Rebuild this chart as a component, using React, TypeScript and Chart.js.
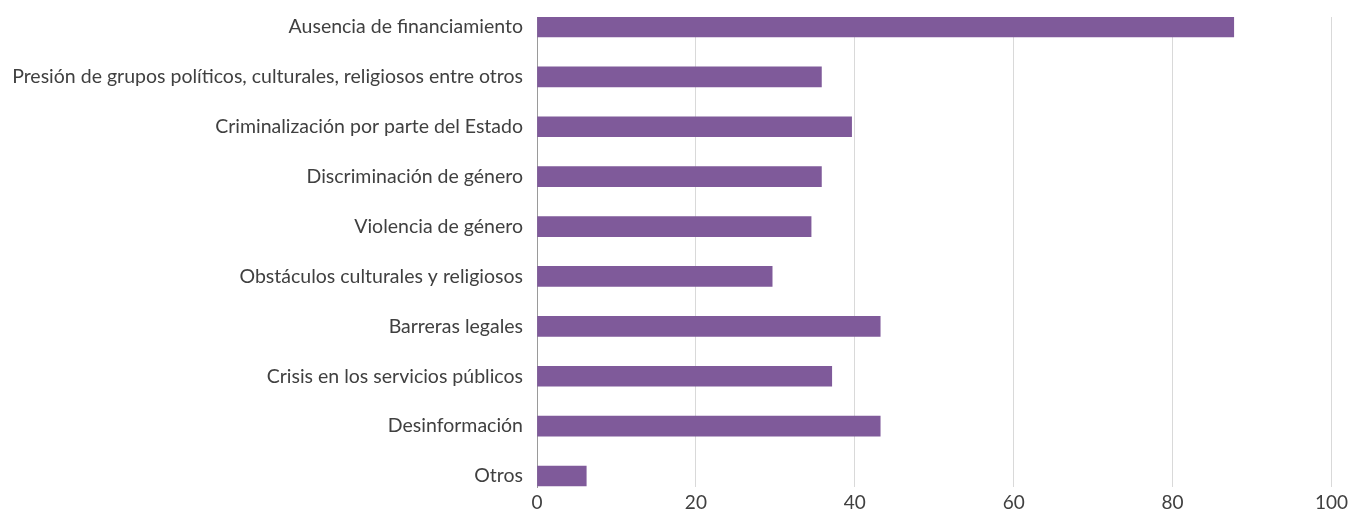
import React, { useEffect, useRef } from "react";
import { Chart, registerables } from "chart.js";

Chart.register(...registerables);

const categories: string[] = [
  "Ausencia de financiamiento",
  "Presión de grupos políticos, culturales, religiosos entre otros",
  "Criminalización por parte del Estado",
  "Discriminación de género",
  "Violencia de género",
  "Obstáculos culturales y religiosos",
  "Barreras legales",
  "Crisis en los servicios públicos",
  "Desinformación",
  "Otros",
];

const values: number[] = [87.7, 35.8, 39.6, 35.8, 34.5, 29.6, 43.2, 37.1, 43.2, 6.2];

const xTicks: number[] = [0, 20, 40, 60, 80, 100];

export default function App() {
  const ref = useRef<HTMLCanvasElement | null>(null);

  useEffect(() => {
    document.body.style.margin = "0";
    const canvas = ref.current;
    if (!canvas) return;
    const chart = new Chart(canvas, {
      type: "bar",
      data: {
        datasets: [
          {
            data: values.map((v, i) => ({ x: v, y: i })),
            backgroundColor: "#7f5a9a",
            borderWidth: 0,
            barThickness: 20,
          },
        ],
      },
      options: {
        indexAxis: "y",
        animation: false,
        responsive: false,
        maintainAspectRatio: false,
        layout: { padding: { top: 17, right: 19, left: 0, bottom: 0 } },
        plugins: { legend: { display: false }, tooltip: { enabled: false } },
        scales: {
          x: {
            type: "linear",
            min: 0,
            max: 100,
            afterBuildTicks: (s: any) => {
              s.ticks = xTicks.map((v) => ({ value: v }));
            },
            afterFit: (s: any) => {
              s.height = 26;
            },
            grid: { color: "#d9d9d9", lineWidth: 1, drawTicks: false },
            border: { display: false },
            ticks: {
              padding: 4,
              color: "#404040",
              font: { family: "Lato", size: 19 },
              maxRotation: 0,
            },
          },
          y: {
            type: "linear",
            reverse: true,
            offset: false,
            min: -0.2,
            max: 9.22,
            afterBuildTicks: (s: any) => {
              s.ticks = categories.map((_, i) => ({ value: i }));
            },
            afterFit: (s: any) => {
              s.width = 537;
              s.paddingTop = 0;
              s.paddingBottom = 0;
            },
            grid: { display: false, drawTicks: false, offset: false },
            border: { display: true, color: "#9a9a9a", width: 1 },
            ticks: {
              padding: 14,
              color: "#404040",
              font: { family: "Lato", size: 19.5 },
              autoSkip: false,
              callback: (v: any) => categories[Math.round(Number(v))] ?? "",
            },
          },
        },
      },
    });
    return () => chart.destroy();
  }, []);

  return (
    <div style={{ width: 1352, height: 513 }}>
      <canvas ref={ref} width={1352} height={513} style={{ display: "block" }} />
    </div>
  );
}
